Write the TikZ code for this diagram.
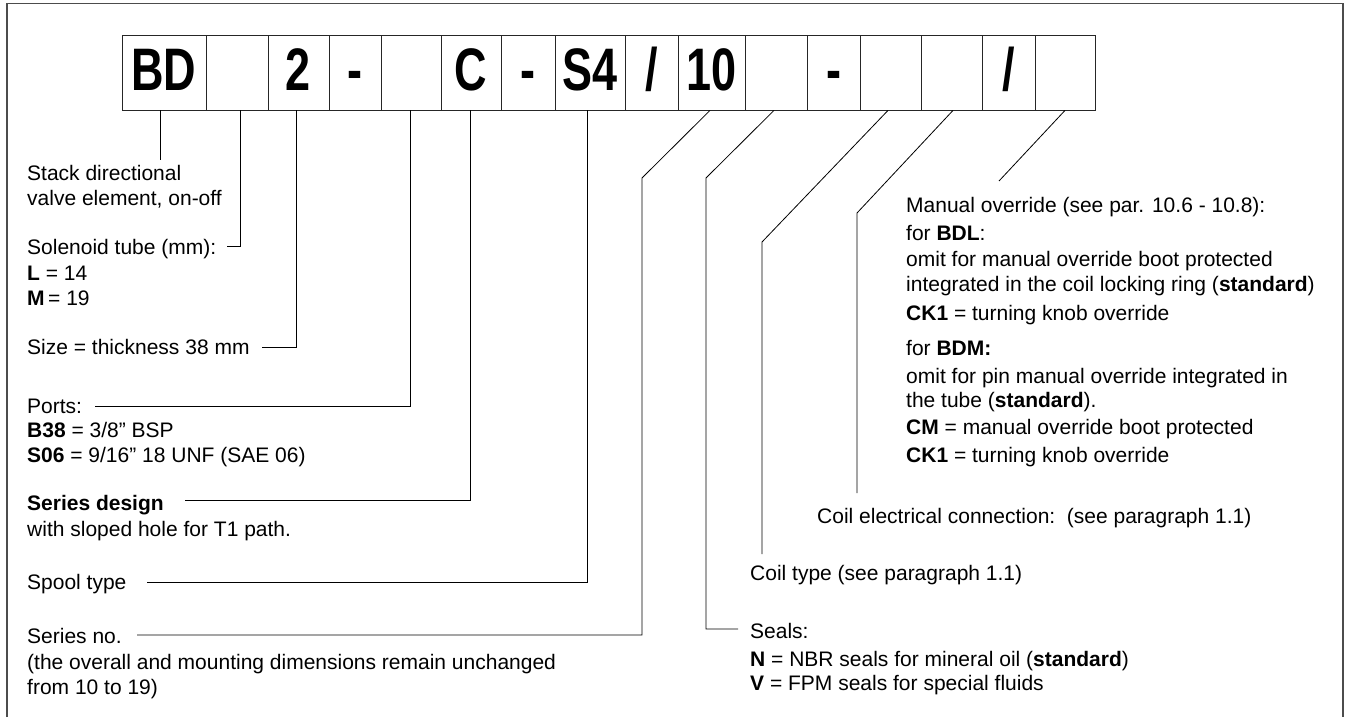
\documentclass[tikz,border=0pt]{standalone}
\usepackage{fontspec}
\setmainfont{Liberation Sans}
\usepackage{graphicx}
\newcommand\mybox[4]{\node[codebox={#3-#2}] (#1) at ({(#2+#3)/2},72.5) {\scalebox{0.75}[1]{#4}};}
\begin{document}
\begin{tikzpicture}[x=1pt,y=-1pt,
  codebox/.style={draw=black!85, line width=0.8pt, minimum width=#1, minimum height=75pt,
    inner sep=0pt, text height=43pt, text depth=8pt, font=\fontsize{60}{60}\selectfont\bfseries},
  lead/.style={draw=black, line width=0.8pt},
  txt/.style={anchor=base west, inner sep=0pt, font=\fontsize{21}{25}\selectfont},
  frameline/.style={draw=black!70, line width=1.6pt}]
\useasboundingbox (0,0) rectangle (1348,717);
\draw[frameline] (7,717) -- (7,3.5) -- (1343,3.5) -- (1343,717);

% code boxes
\mybox{b1}{122}{206}{BD}
\mybox{b2}{206}{268}{}
\mybox{b3}{268}{329}{2}
\mybox{b4}{329}{381}{-}
\mybox{b5}{381}{441}{}
\mybox{b6}{441}{501}{C}
\mybox{b7}{501}{555}{-}
\mybox{b8}{555}{625}{S4}
\mybox{b9}{625}{678}{/}
\mybox{b10}{678}{745}{10}
\mybox{b11}{745}{807}{}
\mybox{b12}{807}{860}{-}
\mybox{b13}{860}{921}{}
\mybox{b14}{921}{982}{}
\mybox{b15}{982}{1035}{/}
\mybox{b16}{1035}{1095}{}

% left column texts
\node[txt] (t1a) at (27,180) {Stack directional};
\node[txt] (t1b) at (27,205) {valve element, on-off};
\node[txt] (t2a) at (27,254) {Solenoid tube (mm):};
\node[txt] (t2b) at (27,280) {\textbf{L} = 14};
\node[txt] (t2c) at (27,305) {\textbf{M}\,= 19};
\node[txt] (t3) at (27,354) {Size = thickness 38 mm};
\node[txt] (t4a) at (27,413) {Ports:};
\node[txt] (t4b) at (27,437) {\textbf{B38} = 3/8” BSP};
\node[txt] (t4c) at (27,462) {\textbf{S06} = 9/16” 18 UNF (SAE 06)};
\node[txt] (t5a) at (27,510) {\textbf{Series design}};
\node[txt] (t5b) at (27,536) {with sloped hole for T1 path.};
\node[txt] (t6) at (27,589) {Spool type};
\node[txt] (t7a) at (27,643) {Series no.};
\node[txt] (t7b) at (27,669) {(the overall and mounting dimensions remain unchanged};
\node[txt] (t7c) at (27,694) {from 10 to 19)};

% right texts
\node[txt] (m1) at (906,212) {Manual override (see par. 10.6 - 10.8):};
\node[txt] (m2) at (906,240) {for \textbf{BDL}:};
\node[txt] (m3) at (906,266) {omit for manual override boot protected};
\node[txt] (m4) at (906,291) {integrated in the coil locking ring (\textbf{standard})};
\node[txt] (m5) at (906,320) {\textbf{CK1} = turning knob override};
\node[txt] (m6) at (906,355) {for \textbf{BDM:}};
\node[txt] (m7) at (906,383) {omit for pin manual override integrated in};
\node[txt] (m8) at (906,407) {the tube (\textbf{standard}).};
\node[txt] (m9) at (906,434) {\textbf{CM} = manual override boot protected};
\node[txt] (m10) at (906,462) {\textbf{CK1} = turning knob override};
\node[txt] (ce) at (817,523) {Coil electrical connection:\ \ (see paragraph 1.1)};
\node[txt] (ct) at (750,580) {Coil type (see paragraph 1.1)};
\node[txt] (s1) at (750,638) {Seals:};
\node[txt] (s2) at (750,666) {\textbf{N} = NBR seals for mineral oil (\textbf{standard})};
\node[txt] (s3) at (750,690) {\textbf{V} = FPM seals for special fluids};

% leader coordinates
\coordinate (k1) at (160,160);
\coordinate (k2) at (227,246);
\coordinate (k3) at (262,347);
\coordinate (k4) at (95,406);
\coordinate (k5) at (185,500);
\coordinate (k6) at (147,582);
\coordinate (d1) at (642,178);
\coordinate (k7) at (137,635);
\coordinate (d2) at (706,178);
\coordinate (k8) at (738,629);
\coordinate (d3) at (762,242);
\coordinate (k9) at (762,554);
\coordinate (d4) at (857,213);
\coordinate (k10) at (857,493);
\coordinate (k11) at (999,181);

% leaders
\draw[lead] (b1.south -| k1) -- (k1);
\draw[lead] ([xshift=3pt]b2.south) |- (k2);
\draw[lead] ([xshift=-2.5pt]b3.south) |- (k3);
\draw[lead] ([xshift=-1pt]b5.south) |- (k4);
\draw[lead] ([xshift=-1pt]b6.south) |- (k5);
\draw[lead] ([xshift=-3pt]b8.south) |- (k6);
\draw[lead] ([xshift=-1.5pt]b10.south) -- (d1) |- (k7);
\draw[lead] ([xshift=-2pt]b11.south) -- (d2) |- (k8);
\draw[lead] ([xshift=-2.5pt]b13.south) -- (d3) -- (k9);
\draw[lead] ([xshift=1.5pt]b14.south) -- (d4) -- (k10);
\draw[lead] (b16.south) -- (k11);
\end{tikzpicture}
\end{document}
